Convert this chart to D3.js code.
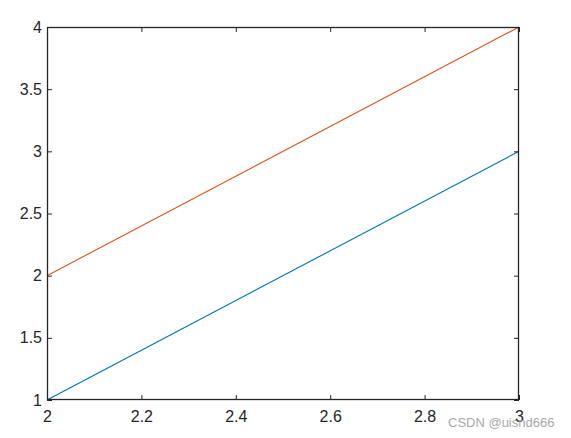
<!DOCTYPE html>
<html><head><meta charset="utf-8">
<script src="https://cdn.jsdelivr.net/npm/d3@7"></script>
<style>body{margin:0;background:#fff}svg{display:block}</style>
</head><body>
<svg id="c" width="571" height="438"></svg>
<script>
const xValues = [2, 3];
const seriesBlue = [1, 3];
const seriesOrange = [2, 4];
const xTicks = [2, 2.2, 2.4, 2.6, 2.8, 3];
const yTicks = [1, 1.5, 2, 2.5, 3, 3.5, 4];
const colors = ["#0072BD", "#D95319"];
const watermark = "CSDN @uisnd666";

const svg = d3.select("#c");
const L = 47, R = 519, T = 27, B = 400;
const x = d3.scaleLinear().domain([2, 3]).range([L, R]);
const y = d3.scaleLinear().domain([1, 4]).range([B, T]);
const font = "Liberation Sans, Arial, sans-serif";
const axisColor = "#262626";

const line = d3.line().x((d, i) => x(xValues[i])).y(d => y(d));
[seriesBlue, seriesOrange].forEach((s, k) => {
  svg.append("path").attr("d", line(s)).attr("fill", "none")
    .attr("stroke", colors[k]).attr("stroke-width", 1.1);
});

function styleAxis(g) {
  g.select(".domain").remove();
  g.selectAll(".tick line").attr("stroke", axisColor);
  g.selectAll(".tick text").attr("fill", axisColor).attr("font-family", font).attr("font-size", 16);
}
const fmt = d => String(d);
svg.append("g").attr("transform", `translate(0,${B})`)
  .call(d3.axisBottom(x).tickValues(xTicks).tickFormat(fmt).tickSizeInner(-5).tickSizeOuter(0).tickPadding(11))
  .call(styleAxis);
svg.append("g").attr("transform", `translate(0,${T})`)
  .call(d3.axisTop(x).tickValues(xTicks).tickFormat("").tickSizeInner(-5).tickSizeOuter(0))
  .call(styleAxis);
svg.append("g").attr("transform", `translate(${L},0)`)
  .call(d3.axisLeft(y).tickValues(yTicks).tickFormat(fmt).tickSizeInner(-5).tickSizeOuter(0).tickPadding(5))
  .call(styleAxis);
svg.append("g").attr("transform", `translate(${R},0)`)
  .call(d3.axisRight(y).tickValues(yTicks).tickFormat("").tickSizeInner(-5).tickSizeOuter(0))
  .call(styleAxis);

svg.append("rect").attr("x", L + 0.5).attr("y", T + 0.5).attr("width", R - L - 1).attr("height", B - T - 1)
  .attr("fill", "none").attr("stroke", axisColor).attr("stroke-width", 1.3);

svg.append("text").attr("x", 448).attr("y", 427).text(watermark)
  .attr("font-family", font).attr("font-size", 13).attr("fill", "#a8a8a8");
</script>
</body></html>
